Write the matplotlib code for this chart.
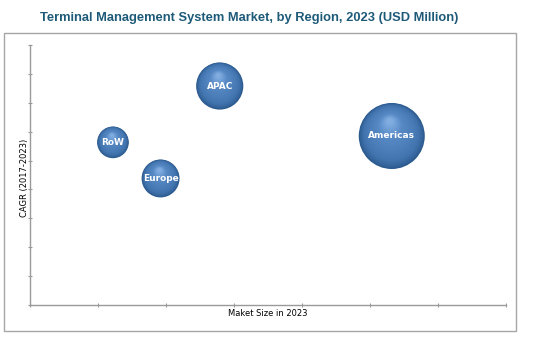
import matplotlib.pyplot as plt
import matplotlib.transforms as mtransforms
from matplotlib.colors import LinearSegmentedColormap
from matplotlib.patches import Rectangle

# datos del grafico
regions = ['APAC', 'Americas', 'RoW', 'Europe']
market_size = [2.79, 5.32, 1.22, 1.92]
cagr = [7.58, 5.85, 5.63, 4.38]
bubble_value = [51, 100, 23, 33]

fig = plt.figure(figsize=(5.37, 3.38), dpi=100)
W, H = 537, 338

# marco exterior
fig.patches.append(Rectangle((4 / W, 1 - 331 / H), 512 / W, 298 / H, transform=fig.transFigure,
                             fill=False, edgecolor='#a6a6a6', linewidth=1.0))

ax = fig.add_axes([30 / W, 1 - 305 / H, 476 / W, 260 / H])
ax.set_xlim(0, 7)
ax.set_ylim(0, 9)
ax.set_xticks(range(8))
ax.set_yticks(range(10))
ax.set_xticklabels([])
ax.set_yticklabels([])
for s in ['top', 'right']:
    ax.spines[s].set_visible(False)
for s in ['left', 'bottom']:
    ax.spines[s].set_color('#9a9a9a')
    ax.spines[s].set_linewidth(1.0)
ax.tick_params(axis='both', color='#9a9a9a', length=3, direction='inout')

# esferas: capas concentricas para dar efecto 3D
cmap = LinearSegmentedColormap.from_list('esfera', ['#2b5a8e', '#4274ae', '#4d80bb', '#5789c5', '#80ace0'])
k = 22.6
n = 30
for x, y, v, name in zip(market_size, cagr, bubble_value, regions):
    s0 = v * k
    d0 = s0 ** 0.5
    for i in range(n):
        f = i / (n - 1)
        size = s0 * (1 - f * 0.9) ** 2
        dy = d0 * 0.22 * f
        dx = -d0 * 0.03 * f
        tr = mtransforms.offset_copy(ax.transData, fig=fig, x=dx, y=dy, units='points')
        ax.scatter([x], [y], s=size, color=cmap(f ** 0.8), edgecolors='none',
                   transform=tr, zorder=3 + i * 0.01, clip_on=False)
    ax.text(x, y, name, ha='center', va='center', color='white', fontsize=6.5,
            fontweight='bold', zorder=5)

ax.set_xlabel('Maket Size in 2023', fontsize=6)
ax.set_ylabel('CAGR (2017-2023)', fontsize=6)
ax.xaxis.set_label_coords(0.5, -(313 - 305) / 260)
ax.yaxis.set_label_coords(-(30 - 24.5) / 476, 0.49)
ax.xaxis.label.set_va('center')
ax.yaxis.label.set_va('center')

title = fig.text(249 / W, 1 - 18 / H, 'Terminal Management System Market, by Region, 2023 (USD Million)',
                 ha='center', va='center', fontsize=11, fontweight='bold', color='#1d5a78',
                 family=['Liberation Sans', 'DejaVu Sans'])
# ajustar el tamaño del titulo al ancho del original
r = fig.canvas.get_renderer()
w = title.get_window_extent(r).width
title.set_fontsize(11 * 420 / w)

fig.savefig('out.png', dpi=100)
